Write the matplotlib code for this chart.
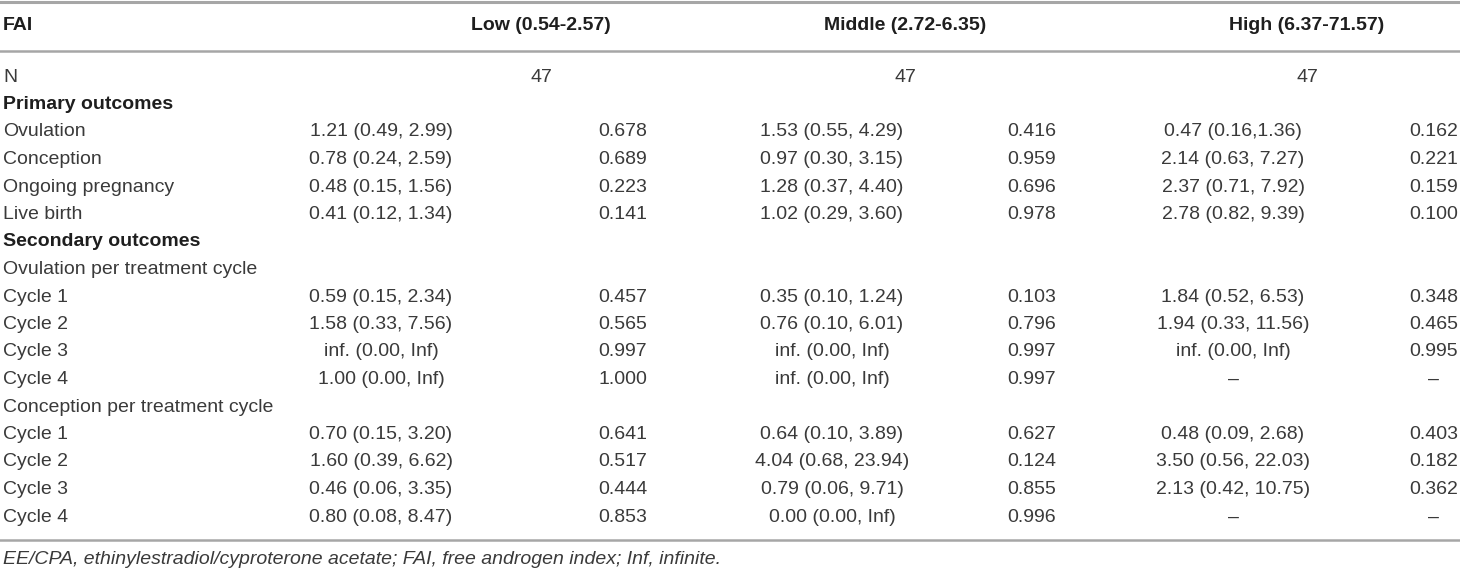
import matplotlib.pyplot as plt

plt.rcParams['font.family'] = ['Liberation Sans', 'DejaVu Sans']

group_headers = ["Low (0.54-2.57)", "Middle (2.72-6.35)", "High (6.37-71.57)"]
group_n = ["47", "47", "47"]

row_labels = [
    "Primary outcomes", "Ovulation", "Conception", "Ongoing pregnancy", "Live birth",
    "Secondary outcomes", "Ovulation per treatment cycle",
    "Cycle 1", "Cycle 2", "Cycle 3", "Cycle 4",
    "Conception per treatment cycle",
    "Cycle 1", "Cycle 2", "Cycle 3", "Cycle 4",
]
bold_rows = ["Primary outcomes", "Secondary outcomes"]

low_or = ["", "1.21 (0.49, 2.99)", "0.78 (0.24, 2.59)", "0.48 (0.15, 1.56)", "0.41 (0.12, 1.34)",
          "", "",
          "0.59 (0.15, 2.34)", "1.58 (0.33, 7.56)", "inf. (0.00, Inf)", "1.00 (0.00, Inf)",
          "",
          "0.70 (0.15, 3.20)", "1.60 (0.39, 6.62)", "0.46 (0.06, 3.35)", "0.80 (0.08, 8.47)"]
low_p = ["", "0.678", "0.689", "0.223", "0.141",
         "", "",
         "0.457", "0.565", "0.997", "1.000",
         "",
         "0.641", "0.517", "0.444", "0.853"]

mid_or = ["", "1.53 (0.55, 4.29)", "0.97 (0.30, 3.15)", "1.28 (0.37, 4.40)", "1.02 (0.29, 3.60)",
          "", "",
          "0.35 (0.10, 1.24)", "0.76 (0.10, 6.01)", "inf. (0.00, Inf)", "inf. (0.00, Inf)",
          "",
          "0.64 (0.10, 3.89)", "4.04 (0.68, 23.94)", "0.79 (0.06, 9.71)", "0.00 (0.00, Inf)"]
mid_p = ["", "0.416", "0.959", "0.696", "0.978",
         "", "",
         "0.103", "0.796", "0.997", "0.997",
         "",
         "0.627", "0.124", "0.855", "0.996"]

high_or = ["", "0.47 (0.16,1.36)", "2.14 (0.63, 7.27)", "2.37 (0.71, 7.92)", "2.78 (0.82, 9.39)",
           "", "",
           "1.84 (0.52, 6.53)", "1.94 (0.33, 11.56)", "inf. (0.00, Inf)", "\u2013",
           "",
           "0.48 (0.09, 2.68)", "3.50 (0.56, 22.03)", "2.13 (0.42, 10.75)", "\u2013"]
high_p = ["", "0.162", "0.221", "0.159", "0.100",
          "", "",
          "0.348", "0.465", "0.995", "\u2013",
          "",
          "0.403", "0.182", "0.362", "\u2013"]

footnote = "EE/CPA, ethinylestradiol/cyproterone acetate; FAI, free androgen index; Inf, infinite."

# layout (pixel coordinates of a 1460x571 canvas)
W, H = 1460, 571
label_x = 3
header_x = [541, 905, 1307]
or_x = [381, 832, 1233]
p_x = [623, 1032, 1434]
header_y = 25
n_y = 77
row0_y = 104.5
row_step = 27.5

body_color = "#3a3a3a"
bold_color = "#1e1e1e"
line_color = "#a6a6a6"
fs = 14

fig = plt.figure(figsize=(W / 100, H / 100), dpi=100)
ax = fig.add_axes([0, 0, 1, 1])
ax.set_xlim(0, W)
ax.set_ylim(H, 0)
ax.axis("off")

# rules
ax.axhline(1.5, color=line_color, lw=2.2)
ax.axhline(51, color=line_color, lw=1.8)
ax.axhline(540, color=line_color, lw=1.8)

# header
ax.text(label_x, header_y, "FAI", fontsize=fs, fontweight="bold", color=bold_color, va="center")
for x, h in zip(header_x, group_headers):
    ax.text(x, header_y, h, fontsize=fs, fontweight="bold", color=bold_color, ha="center", va="center")

ax.text(label_x, n_y, "N", fontsize=fs, color=body_color, va="center")
for x, n in zip(header_x, group_n):
    ax.text(x, n_y, n, fontsize=fs, color=body_color, ha="center", va="center")

groups = [(low_or, low_p), (mid_or, mid_p), (high_or, high_p)]
for i, lab in enumerate(row_labels):
    y = row0_y + i * row_step
    if lab in bold_rows:
        ax.text(label_x, y, lab, fontsize=fs, fontweight="bold", color=bold_color, va="center")
    else:
        ax.text(label_x, y, lab, fontsize=fs, color=body_color, va="center")
    for g, (ors, ps) in enumerate(groups):
        if ors[i]:
            ax.text(or_x[g], y, ors[i], fontsize=fs, color=body_color, ha="center", va="center")
        if ps[i]:
            ax.text(p_x[g], y, ps[i], fontsize=fs, color=body_color, ha="center", va="center")

ax.text(label_x, 559, footnote, fontsize=14, style="italic", color=body_color, va="center")

fig.savefig("out.png", dpi=100)
